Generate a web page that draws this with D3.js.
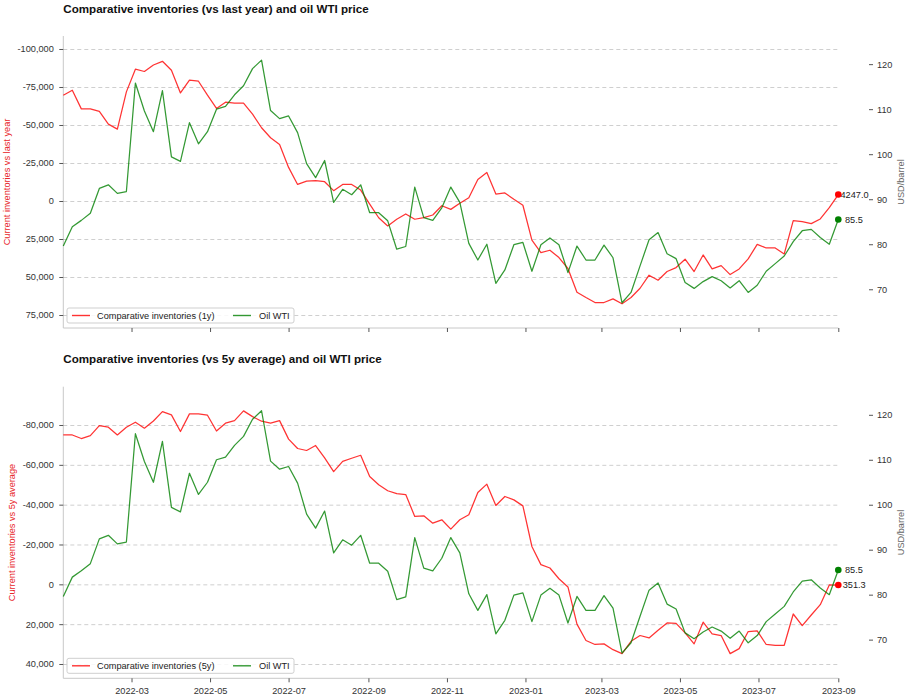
<!DOCTYPE html>
<html><head><meta charset="utf-8">
<script src="https://cdn.jsdelivr.net/npm/d3@7"></script>
<style>
body{margin:0;background:#fff}
text{font-family:"Liberation Sans",Arial,Helvetica,sans-serif}
</style>
</head><body>
<svg id="chart" width="910" height="700"></svg>
<script>
// ---------- DATA ----------
const dates = [
"2022-01-07","2022-01-14","2022-01-21","2022-01-28","2022-02-04","2022-02-11","2022-02-18","2022-02-25",
"2022-03-04","2022-03-11","2022-03-18","2022-03-25","2022-04-01","2022-04-08","2022-04-15","2022-04-22","2022-04-29",
"2022-05-06","2022-05-13","2022-05-20","2022-05-27","2022-06-03","2022-06-10","2022-06-17","2022-06-24",
"2022-07-01","2022-07-08","2022-07-15","2022-07-22","2022-07-29","2022-08-05","2022-08-12","2022-08-19","2022-08-26",
"2022-09-02","2022-09-09","2022-09-16","2022-09-23","2022-09-30","2022-10-07","2022-10-14","2022-10-21","2022-10-28",
"2022-11-04","2022-11-11","2022-11-18","2022-11-25","2022-12-02","2022-12-09","2022-12-16","2022-12-23","2022-12-30",
"2023-01-06","2023-01-13","2023-01-20","2023-01-27","2023-02-03","2023-02-10","2023-02-17","2023-02-24",
"2023-03-03","2023-03-10","2023-03-17","2023-03-24","2023-03-31","2023-04-07","2023-04-14","2023-04-21","2023-04-28",
"2023-05-05","2023-05-12","2023-05-19","2023-05-26","2023-06-02","2023-06-09","2023-06-16","2023-06-23","2023-06-30",
"2023-07-07","2023-07-14","2023-07-21","2023-07-28","2023-08-04","2023-08-11","2023-08-18","2023-08-25","2023-09-01"];

const invVsLastYear = [
-69600,-72900,-60600,-60600,-58900,-50600,-47300,-71800,
-86700,-85200,-89500,-91900,-86000,-71100,-79500,-78800,-69600,
-60900,-65000,-64400,-64400,-57100,-48200,-41600,-37200,
-22100,-10900,-13100,-13400,-12700,-6800,-10900,-10900,-7200,
2000,11000,16400,12000,8500,12000,10900,9200,3100,
5500,1500,-2200,-14200,-18800,-4600,-5300,-1100,2800,
25800,33900,32400,37200,44400,60000,63500,66800,
66800,64400,67600,63500,57400,48800,52100,46400,43800,
38300,46400,35500,44700,42500,48400,44700,38100,
28500,30900,30900,34800,12900,13600,14900,11800,4400,-4247];

const invVs5yAvg = [
-75000,-75000,-73200,-74700,-79700,-78900,-75000,-78900,
-81400,-78400,-82000,-86700,-85100,-76700,-85600,-85600,-84900,
-77000,-80900,-82200,-87100,-84200,-81900,-80900,-82200,
-72900,-68200,-67200,-69700,-63500,-56600,-61700,-63300,-64800,
-54100,-50000,-47000,-45500,-45100,-34100,-34400,-30700,-32400,
-27700,-32400,-34900,-46100,-50300,-39600,-44100,-42400,-39400,
-19000,-9900,-8200,-2800,1300,20000,28200,30200,
29900,32800,34800,28600,25700,26900,23100,19400,19600,
24400,29900,19000,24900,25700,34800,32300,23700,
23400,30200,30600,30600,14900,20700,15400,10200,300,351.3];

const oilWTI = [
79.6,83.9,85.3,86.9,92.4,93.2,91.3,91.7,
115.8,109.6,105.0,114.1,99.4,98.4,107.0,102.3,105.0,
110.0,110.6,113.2,115.2,119.0,120.9,109.7,107.9,
108.5,104.8,97.9,94.8,98.6,89.3,92.2,91.0,93.2,
87.0,87.0,85.2,78.9,79.5,92.7,85.9,85.3,88.1,
92.7,89.3,80.2,76.5,80.0,71.3,74.3,79.9,80.4,
74.0,79.9,81.4,79.9,73.7,79.6,76.5,76.5,
79.8,77.0,67.0,69.3,75.2,81.0,82.6,77.9,76.8,
71.5,70.2,71.7,72.8,71.9,70.3,71.9,69.3,
70.9,74.0,75.7,77.4,80.6,83.0,83.3,81.5,80.0,85.5];

const leftTicksTop = [-100000,-75000,-50000,-25000,0,25000,50000,75000];
const leftTicksBottom = [-80000,-60000,-40000,-20000,0,20000,40000];
const rightTicks = [70,80,90,100,110,120];
const xTicks = ["2022-03","2022-05","2022-07","2022-09","2022-11","2023-01","2023-03","2023-05","2023-07","2023-09"];
const titles = ["Comparative inventories (vs last year) and oil WTI price","Comparative inventories (vs 5y average) and oil WTI price"];
const leftLabels = ["Current inventories vs last year","Current inventories vs 5y average"];
const rightLabel = "USD/barrel";
const legendLabels = ["Comparative inventories (1y)","Comparative inventories (5y)"];
const oilLabel = "Oil WTI";
const endInvLabels = ["4247.0","351.3"];
const endOilLabel = "85.5";

// ---------- LAYOUT ----------
const svg = d3.select("#chart");
const X0 = 63.3, X1 = 838.3;
const parseDay = d3.timeParse("%Y-%m-%d");
const parseMonth = d3.timeParse("%Y-%m");
const dts = dates.map(parseDay);
const x = d3.scaleTime().domain([dts[0], dts[dts.length-1]]).range([X0, X1]);
const loc = d3.formatLocale({decimal:".",thousands:",",grouping:[3],currency:["",""],minus:"-"});
const fmt = loc.format(",");
const RED = "rgba(255,0,0,0.8)", GREEN = "rgba(0,128,0,0.8)";
const FS = 9.2;

const panels = [
  {top:36, bottom:328, dom:[-108550,83550], series:invVsLastYear, ticks:leftTicksTop, title:titles[0], titleY:13,
   ylab:leftLabels[0], ylabX:7, leg:legendLabels[0], showX:false, endLab:endInvLabels[0], redDx:2.2},
  {top:386.7, bottom:678.3, dom:[-99230,47180], series:invVs5yAvg, ticks:leftTicksBottom, title:titles[1], titleY:363,
   ylab:leftLabels[1], ylabX:12, leg:legendLabels[1], showX:true, endLab:endInvLabels[1], redDx:4.4}
];

panels.forEach(p => {
  const g = svg.append("g");
  const yL = d3.scaleLinear().domain(p.dom).range([p.top, p.bottom]);
  const yR = d3.scaleLinear().domain([61.4, 126.25]).range([p.bottom, p.top]);

  // title
  g.append("text").attr("x", X0).attr("y", p.titleY).attr("font-size", 11.6).attr("font-weight", "bold")
    .attr("fill", "#111").text(p.title);

  // gridlines
  const grid = g.append("g").attr("transform", `translate(${X0},0)`)
    .call(d3.axisLeft(yL).tickValues(p.ticks).tickSize(-(X1 - X0)).tickFormat(""));
  grid.select(".domain").remove();
  grid.selectAll("line").attr("stroke", "#cfcfcf").attr("stroke-width", 1).attr("stroke-dasharray", "4,3");

  // left axis
  const ax = g.append("g").attr("transform", `translate(${X0},0)`)
    .call(d3.axisLeft(yL).tickValues(p.ticks).tickSize(4).tickSizeOuter(0).tickPadding(5.5).tickFormat(fmt));
  ax.select(".domain").attr("stroke", "#c8c8c8").attr("d", `M0,${p.top}V${p.bottom}`);
  ax.selectAll(".tick line").attr("stroke", "#555");
  ax.selectAll("text").attr("font-size", FS).attr("fill", "#333").attr("font-family", "Liberation Sans, Arial, sans-serif");

  // bottom axis
  const bx = g.append("g").attr("transform", `translate(0,${p.bottom})`)
    .call(d3.axisBottom(x).tickValues(xTicks.map(parseMonth)).tickSize(4).tickSizeOuter(0).tickPadding(5)
      .tickFormat((d, i) => p.showX ? xTicks[i] : ""));
  bx.select(".domain").attr("stroke", "#c8c8c8").attr("d", `M${X0},0H${X1}`);
  bx.selectAll(".tick line").attr("stroke", "#555");
  bx.selectAll("text").attr("font-size", FS).attr("fill", "#333").attr("font-family", "Liberation Sans, Arial, sans-serif");

  // right axis
  const rx = g.append("g").attr("transform", `translate(869,0)`)
    .call(d3.axisRight(yR).tickValues(rightTicks).tickSize(4).tickPadding(4));
  rx.select(".domain").remove();
  rx.selectAll(".tick line").attr("stroke", "#555");
  rx.selectAll("text").attr("font-size", FS).attr("fill", "#333").attr("font-family", "Liberation Sans, Arial, sans-serif");

  // axis labels
  const cy = (p.top + p.bottom) / 2;
  g.append("text").attr("transform", `translate(${p.ylabX},${cy}) rotate(-90)`).attr("text-anchor", "middle")
    .attr("dy", "0.35em").attr("font-size", FS).attr("fill", "#e8262a").text(p.ylab);
  g.append("text").attr("transform", `translate(900.7,${cy}) rotate(-90)`).attr("text-anchor", "middle")
    .attr("dy", "0.35em").attr("font-size", FS).attr("fill", "#666").text(rightLabel);

  // lines
  const lineL = d3.line().x((d, i) => x(dts[i])).y(d => yL(d));
  const lineR = d3.line().x((d, i) => x(dts[i])).y(d => yR(d));
  g.append("path").datum(p.series).attr("d", lineL).attr("fill", "none").attr("stroke", RED).attr("stroke-width", 1.25)
    .attr("stroke-linejoin", "round");
  g.append("path").datum(oilWTI).attr("d", lineR).attr("fill", "none").attr("stroke", GREEN).attr("stroke-width", 1.25)
    .attr("stroke-linejoin", "round");

  // end points
  const n = dts.length - 1;
  const lx = x(dts[n]);
  g.append("text").attr("x", lx + p.redDx).attr("y", yL(p.series[n])).attr("dy", "0.35em").attr("font-size", FS)
    .attr("fill", "#222").text(p.endLab);
  g.append("circle").attr("cx", lx).attr("cy", yL(p.series[n])).attr("r", 3.3).attr("fill", "#f00");
  g.append("text").attr("x", lx + 6.7).attr("y", yR(oilWTI[n])).attr("dy", "0.35em").attr("font-size", FS)
    .attr("fill", "#222").text(endOilLabel);
  g.append("circle").attr("cx", lx).attr("cy", yR(oilWTI[n])).attr("r", 3.3).attr("fill", "#008000");

  // legend
  const ly = p.bottom - 20;
  const lg = g.append("g").attr("transform", `translate(67,${ly})`);
  lg.append("rect").attr("width", 227).attr("height", 15).attr("rx", 2).attr("fill", "rgba(255,255,255,0.85)")
    .attr("stroke", "#cfcfcf").attr("stroke-width", 1);
  lg.append("line").attr("x1", 5).attr("x2", 23).attr("y1", 7.5).attr("y2", 7.5).attr("stroke", RED).attr("stroke-width", 1.4);
  lg.append("text").attr("x", 30).attr("y", 7.5).attr("dy", "0.35em").attr("font-size", FS).attr("fill", "#222").text(p.leg);
  lg.append("line").attr("x1", 166).attr("x2", 184).attr("y1", 7.5).attr("y2", 7.5).attr("stroke", GREEN).attr("stroke-width", 1.4);
  lg.append("text").attr("x", 192).attr("y", 7.5).attr("dy", "0.35em").attr("font-size", FS).attr("fill", "#222").text(oilLabel);
});
</script>
</body></html>
